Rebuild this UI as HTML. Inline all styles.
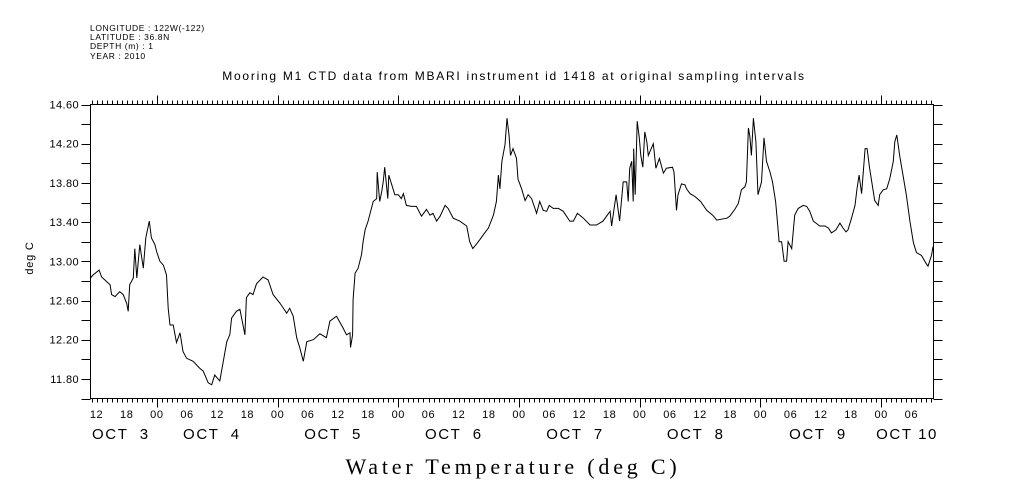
<!DOCTYPE html>
<html><head><meta charset="utf-8">
<style>
html,body{margin:0;padding:0;background:#fff;}
svg{display:block;}
text{font-family:"Liberation Sans",sans-serif;fill:#000;}
</style></head>
<body>
<svg id="chart" width="1009" height="504" viewBox="0 0 1009 504" xmlns="http://www.w3.org/2000/svg">
  <g font-size="8.5" letter-spacing="0.6">
    <text x="90" y="31">LONGITUDE : 122W(-122)</text>
    <text x="90" y="40">LATITUDE : 36.8N</text>
    <text x="90" y="49">DEPTH (m) : 1</text>
    <text x="90" y="59">YEAR : 2010</text>
  </g>
  <text x="514" y="80" font-size="12" letter-spacing="1.75" text-anchor="middle">Mooring M1 CTD data from MBARI instrument id 1418 at original sampling intervals</text>
  <text x="0" y="0" font-size="11" letter-spacing="0.8" text-anchor="middle" transform="translate(33,258) rotate(-90)">deg C</text>
  <text x="513" y="474" font-size="22" letter-spacing="3.8" text-anchor="middle" style="font-family:'Liberation Serif','DejaVu Serif',serif">Water Temperature (deg C)</text>
  <rect x="90.5" y="104.5" width="843" height="294" fill="none" stroke="#000" stroke-width="1"/>
  <g id="axes"></g>
  <path id="series" fill="none" stroke="#000" stroke-width="1"/>
</svg>
<script>
// hours since OCT 4 00:00
const hours = [-13.2,-12.7,-11.5,-11.0,-9.3,-9.0,-8.3,-7.4,-6.7,-6.0,-5.7,-5.4,-4.7,-4.4,-4.0,-3.4,-2.7,-2.2,-1.5,-1.1,-0.4,-0.06,0.6,1.3,1.9,2.25,2.6,3.25,3.9,4.6,5.2,5.9,7.2,8.5,9.2,10.2,10.9,11.5,12.5,13.2,13.9,14.5,14.85,15.8,16.5,17.5,17.8,18.5,19.1,19.8,21.1,22.1,23.1,24.5,25.8,26.4,27.1,27.8,28.4,29.1,29.8,31.1,32.4,33.7,34.4,35.7,37.0,37.7,38.4,38.5,38.9,39.0,39.4,40.0,40.7,41.0,41.4,42.0,43.0,43.7,43.8,44.3,44.7,45.0,45.3,45.9,46.1,46.7,47.3,48.0,48.6,49.0,49.6,50.6,51.6,52.6,53.6,54.3,54.9,55.6,56.3,57.3,57.9,58.9,60.2,61.6,62.2,62.8,63.6,64.2,64.9,65.9,66.9,67.5,67.9,68.2,68.6,69.2,69.6,70.0,70.3,70.8,71.5,71.8,72.5,73.2,73.8,74.5,75.5,76.1,76.8,77.5,78.0,78.8,79.8,80.8,82.1,82.8,83.6,84.8,86.1,87.4,88.7,90.1,90.4,91.3,92.0,92.7,93.4,93.7,94.0,94.4,94.7,94.8,95.1,95.5,95.9,96.2,96.6,97.0,97.4,97.7,98.7,99.2,99.9,100.7,101.3,102.5,102.8,103.3,103.6,104.3,105.0,105.3,106.0,107.0,108.1,109.3,110.5,111.3,113.3,113.9,114.9,115.6,116.2,116.9,117.2,117.6,117.9,118.2,118.6,119.1,119.5,120.2,120.7,121.2,121.9,122.4,123.0,123.3,123.7,124.2,124.7,125.2,125.5,126.2,126.8,127.5,128.5,129.2,129.8,130.5,131.8,132.8,133.5,134.1,135.0,135.8,136.4,137.0,137.4,138.1,138.8,139.2,139.6,140.1,140.8,141.2,141.7,142.7,143.4,143.7,144.4,145.1,145.7,146.4,146.7,147.1,147.7,148.4,149.0,149.7,150.4,151.0,152.0,152.9,153.3,154.0,154.3];
const temps = [12.83,12.86,12.91,12.84,12.76,12.66,12.64,12.69,12.66,12.57,12.49,12.76,12.83,13.13,12.83,13.17,12.93,13.24,13.41,13.24,13.17,13.10,13.00,12.96,12.86,12.52,12.35,12.35,12.17,12.27,12.08,12.01,11.98,11.91,11.88,11.76,11.74,11.84,11.78,11.98,12.18,12.25,12.42,12.49,12.51,12.25,12.63,12.68,12.66,12.77,12.84,12.81,12.66,12.57,12.47,12.52,12.44,12.22,12.12,11.98,12.18,12.20,12.26,12.22,12.39,12.44,12.32,12.25,12.27,12.12,12.25,12.61,12.88,12.93,13.07,13.20,13.32,13.41,13.61,13.64,13.91,13.61,13.71,13.81,13.96,13.64,13.88,13.78,13.68,13.68,13.64,13.69,13.57,13.56,13.56,13.46,13.53,13.47,13.49,13.41,13.46,13.57,13.54,13.44,13.41,13.36,13.20,13.13,13.18,13.22,13.27,13.34,13.47,13.61,13.88,13.74,14.02,14.19,14.46,14.29,14.08,14.15,14.05,13.84,13.74,13.62,13.68,13.64,13.49,13.61,13.52,13.51,13.57,13.54,13.54,13.51,13.41,13.41,13.49,13.44,13.37,13.37,13.41,13.51,13.36,13.68,13.41,13.81,13.81,13.61,13.95,14.02,13.61,14.15,13.68,14.43,14.26,14.08,13.96,14.32,14.22,14.08,14.20,13.95,14.05,13.90,13.95,13.96,13.91,13.52,13.68,13.79,13.78,13.74,13.69,13.66,13.61,13.52,13.47,13.42,13.44,13.46,13.53,13.59,13.73,13.76,13.81,14.36,14.27,14.08,14.46,14.22,13.68,13.81,14.26,14.02,13.91,13.81,13.61,13.44,13.20,13.20,13.00,13.00,13.20,13.13,13.47,13.54,13.57,13.56,13.51,13.41,13.36,13.36,13.34,13.29,13.32,13.39,13.34,13.30,13.32,13.44,13.57,13.74,13.88,13.69,14.15,14.15,13.95,13.62,13.57,13.68,13.73,13.74,13.84,14.02,14.22,14.29,14.07,13.86,13.68,13.41,13.19,13.09,13.06,12.98,12.95,13.06,13.15,13.17];
const yTickValues = [14.6,14.2,13.8,13.4,13.0,12.6,12.2,11.8];
const yTickLabels = ["14.60","14.20","13.80","13.40","13.00","12.60","12.20","11.80"];
const hourLabels = ["12","18","00","06","12","18","00","06","12","18","00","06","12","18","00","06","12","18","00","06","12","18","00","06","12","18","00","06","12","18","00","06"];
const hourLabelTimes = [-12,-6,0,6,12,18,24,30,36,42,48,54,60,66,72,78,84,90,96,102,108,114,120,126,132,138,144,150,156,162,168,174];
const dateLabels = ["OCT  3","OCT  4","OCT  5","OCT  6","OCT  7","OCT  8","OCT  9","OCT 10"];
const dateLabelTimes = [-12.9,5.2,29.3,53.3,77.4,101.4,125.7,143.0];

const X0 = 90.5, X1 = 933.5, Y0 = 104.5, Y1 = 398.5;
const T0 = -13.2, T1 = 154.4, V0 = 11.60, V1 = 14.60;
function xs(t){ return X0 + (t - T0) / (T1 - T0) * (X1 - X0); }
function ys(v){ return Y1 - (v - V0) / (V1 - V0) * (Y1 - Y0); }

const NS = "http://www.w3.org/2000/svg";
const axes = document.getElementById('axes');
function line(x1,y1,x2,y2,name){
  const l = document.createElementNS(NS,'line');
  l.setAttribute('x1',x1); l.setAttribute('y1',y1); l.setAttribute('x2',x2); l.setAttribute('y2',y2);
  l.setAttribute('stroke','#000'); l.setAttribute('stroke-width','1');
  
  
  axes.appendChild(l);
}
function txt(x,y,s,size,anchor,name,ls){
  const t = document.createElementNS(NS,'text');
  t.setAttribute('x',x); t.setAttribute('y',y); t.setAttribute('font-size',size);
  t.setAttribute('text-anchor',anchor); t.textContent = s;
  if (ls) t.setAttribute('letter-spacing', ls);
  t.style.whiteSpace = 'pre';
  
  
  axes.appendChild(t);
  return t;
}
for (let h = Math.ceil(T0); h <= T1; h++) {
  const x = Math.round(xs(h)) + 0.5;
  const major = (((h % 24) + 24) % 24) === 0;
  const len = major ? 9 : 4;
  line(x, Y0, x, Y0 - len, 'x-tick-top');
  line(x, Y1, x, Y1 + len, 'x-tick-bottom');
}
for (let v = 11.6; v <= 14.61; v += 0.2) {
  const y = Math.round(ys(v)) + 0.5;
  line(X0 - 9, y, X0, y, 'y-tick-left');
  line(X1, y, X1 + 9, y, 'y-tick-right');
}
yTickValues.forEach((v,i)=>{ txt(79, ys(v)+4, yTickLabels[i], 11, 'end', 'y-tick-label', '0.4'); });
hourLabels.forEach((s,i)=>{ const t = hourLabelTimes[i]; if (t>=T0 && t<=T1) txt(xs(t), 418, s, 11, 'middle', 'x-hour-label', '0.6'); });
dateLabels.forEach((s,i)=>{ txt(xs(dateLabelTimes[i]), 439, s, 15, 'start', 'x-date-label', '1.6'); });

let d = '';
hours.forEach((h,i)=>{ d += (i ? 'L' : 'M') + xs(h).toFixed(1) + ',' + ys(temps[i]).toFixed(1); });
document.getElementById('series').setAttribute('d', d);
</script>
</body></html>
